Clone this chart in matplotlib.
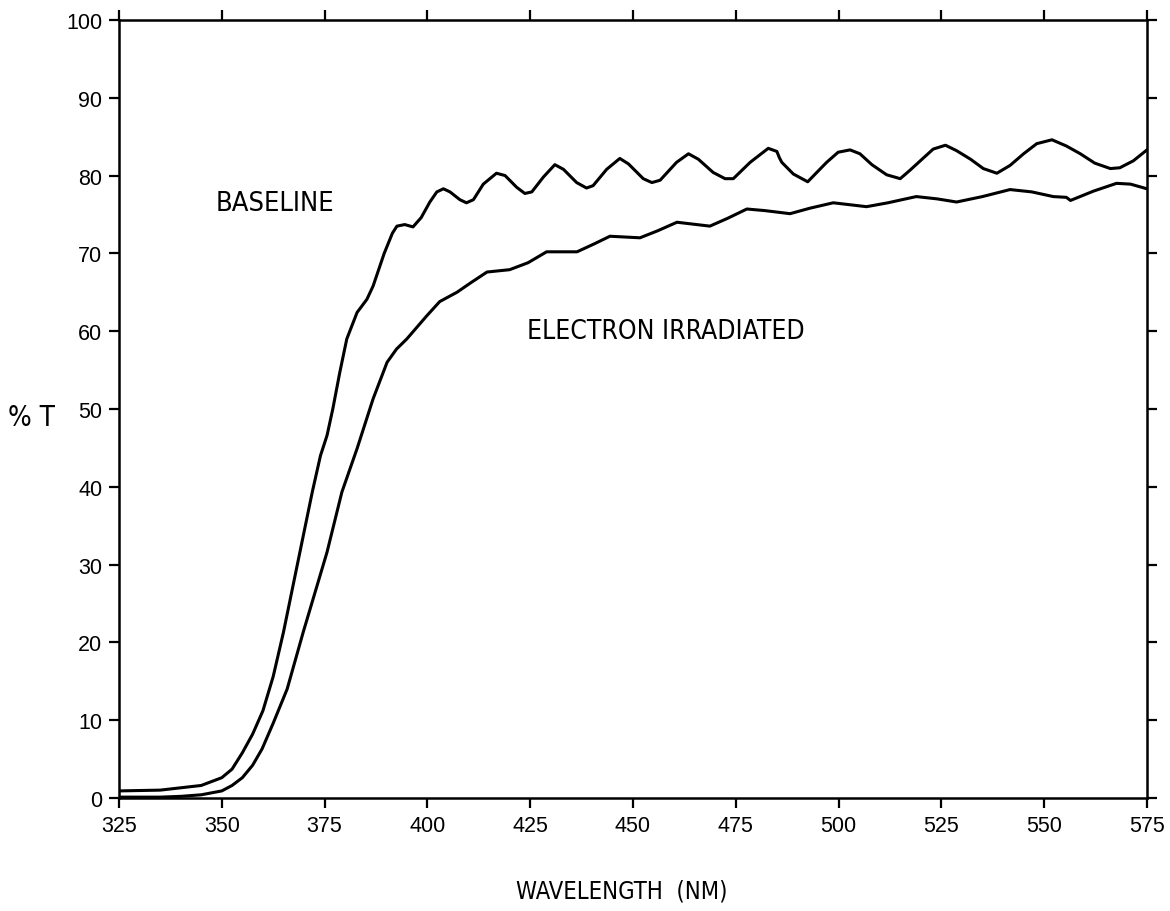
"""
%T vs wavelength: baseline vs electron irradiated (plotter-style reproduction)
output: out.png
"""
import matplotlib
matplotlib.use('Agg')
import matplotlib.pyplot as plt

# --- data ---
wl_base = [325, 335, 340, 345, 350, 352.5, 355, 357.5, 360, 362.5, 365, 369, 372, 374,
           375.6, 377, 378.7, 380.4, 382.9, 385.3, 386.8, 389.5, 391.5, 392.6, 394.5,
           396.5, 398.5, 400.6, 402.3, 403.9, 405.5, 407.9, 409.5, 411.2, 413.6, 416.8,
           418.9, 421.7, 423.7, 425.4, 428.2, 431, 433.1, 436.3, 438.7, 440.3, 443.6,
           446.8, 448.9, 452.5, 454.6, 456.6, 460.6, 463.5, 465.9, 469.5, 472.4, 474.4,
           478.5, 482.9, 485, 485.6, 486.2, 489, 492.5, 494.7, 497.1, 499.9, 502.8,
           505.2, 508.1, 511.7, 515, 517.4, 520.3, 523, 526, 528.7, 532.1, 535.2, 538.5,
           541.7, 545, 548.2, 551.9, 555.4, 558.8, 562.3, 566.1, 568.4, 571.7, 575]
t_base = [0.9, 1.0, 1.3, 1.6, 2.6, 3.7, 5.8, 8.2, 11.2, 15.6, 21.3, 31.6, 39.3, 44,
          46.6, 50, 54.7, 59, 62.4, 64.1, 65.8, 70, 72.6, 73.5, 73.7,
          73.4, 74.6, 76.6, 77.9, 78.3, 77.9, 76.9, 76.5, 76.9, 78.9, 80.3,
          80.0, 78.5, 77.7, 77.9, 79.8, 81.4, 80.8, 79.1, 78.4, 78.7, 80.8,
          82.2, 81.5, 79.6, 79.1, 79.4, 81.7, 82.8, 82.1, 80.4, 79.6, 79.6,
          81.7, 83.5, 83.1, 82.3, 81.7, 80.2, 79.2, 80.4, 81.7, 83.0, 83.3,
          82.8, 81.4, 80.1, 79.6, 80.7, 82.1, 83.4, 83.9, 83.2, 82.1, 80.9, 80.3,
          81.3, 82.8, 84.1, 84.6, 83.8, 82.8, 81.6, 80.9, 81.0, 81.9, 83.3]

wl_irr = [325, 335, 340, 345, 350, 352.5, 355, 357.5, 359.8, 362.5, 365.9, 369.8,
          375.6, 379.2, 382.9, 386.8, 390.2, 392.5, 395, 399.9, 403, 407.2, 410.5,
          414.5, 420, 424.5, 429, 436.4, 440.5, 444.4, 451.7, 456, 460.7, 468.7, 473,
          477.7, 482, 488.2, 493, 498.7, 506.8, 512, 518.9, 524, 528.7, 535, 541.7,
          547, 552.2, 555.4, 556.4, 562, 567.6, 571, 575]
t_irr = [0.1, 0.1, 0.2, 0.4, 0.9, 1.6, 2.6, 4.2, 6.3, 9.6, 14, 21.3,
         31.6, 39.3, 44.9, 51.3, 56, 57.7, 59, 62, 63.8, 65, 66.2,
         67.6, 67.9, 68.8, 70.2, 70.2, 71.2, 72.2, 72, 72.9, 74, 73.5, 74.5,
         75.7, 75.5, 75.1, 75.8, 76.5, 76, 76.5, 77.3, 77.0, 76.6, 77.3, 78.2,
         77.9, 77.3, 77.2, 76.8, 78, 79, 78.9, 78.3]

x_ticks = [325, 350, 375, 400, 425, 450, 475, 500, 525, 550, 575]
y_ticks = [0, 10, 20, 30, 40, 50, 60, 70, 80, 90, 100]

NARROW = ['DejaVu Sans', 'Liberation Sans']
TICKFONT = ['Liberation Sans', 'DejaVu Sans']

fig = plt.figure(figsize=(11.7, 9.12), dpi=100, facecolor='white')
ax = fig.add_axes([0.1017, 0.124, 0.8786, 0.853])

ax.plot(wl_base, t_base, color='black', lw=2.2, solid_joinstyle='round')
ax.plot(wl_irr, t_irr, color='black', lw=2.2, solid_joinstyle='round')

ax.set_xlim(325, 575)
ax.set_ylim(0, 100)
ax.set_xticks(x_ticks)
ax.set_yticks(y_ticks)
ax.tick_params(direction='out', length=7, width=1.6, top=True, right=True,
               labeltop=False, labelright=False, labelsize=15.5, pad=5)
for lab in ax.get_xticklabels() + ax.get_yticklabels():
    lab.set_family(TICKFONT)
for sp in ax.spines.values():
    sp.set_linewidth(1.8)

ax.text(363, 76.5, 'BASELINE', fontsize=19.5, family=NARROW, stretch='condensed',
        ha='center', va='center')
ax.text(458, 60, 'ELECTRON IRRADIATED', fontsize=19, family=NARROW, stretch='condensed',
        ha='center', va='center')

fig.text(0.531, 0.022, 'WAVELENGTH  (NM)', fontsize=17, family=NARROW, stretch='condensed',
         ha='center', va='center')
fig.text(0.027, 0.542, '% T', fontsize=20, family=NARROW, stretch='condensed',
         ha='center', va='center')

plt.savefig('out.png', dpi=100, facecolor='white')
plt.close()
